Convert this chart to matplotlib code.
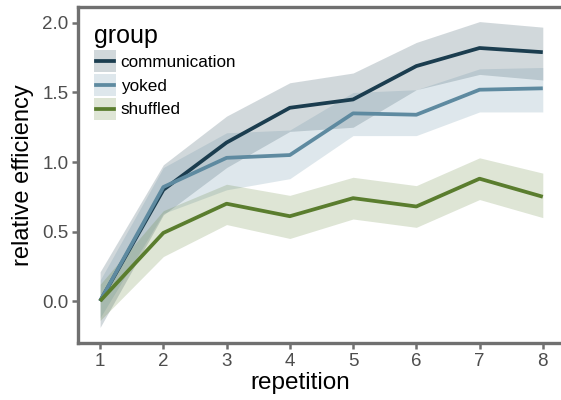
import numpy as np
import matplotlib
matplotlib.use("Agg")
import matplotlib.pyplot as plt
from matplotlib.patches import Rectangle
from matplotlib.lines import Line2D

plt.rcParams['font.family'] = ['Liberation Sans', 'DejaVu Sans']

# datos
repeticion = [1, 2, 3, 4, 5, 6, 7, 8]
grupos = ['communication', 'yoked', 'shuffled']

comm_media = [0.00, 0.80, 1.14, 1.39, 1.45, 1.69, 1.82, 1.79]
comm_inf = [-0.19, 0.62, 0.96, 1.22, 1.25, 1.52, 1.63, 1.59]
comm_sup = [0.21, 0.98, 1.33, 1.57, 1.64, 1.86, 2.01, 1.97]

yoked_media = [0.00, 0.82, 1.03, 1.05, 1.35, 1.34, 1.52, 1.53]
yoked_inf = [-0.12, 0.63, 0.80, 0.88, 1.19, 1.19, 1.36, 1.36]
yoked_sup = [0.15, 0.96, 1.21, 1.23, 1.50, 1.52, 1.67, 1.68]

shuf_media = [0.00, 0.49, 0.70, 0.61, 0.74, 0.68, 0.88, 0.75]
shuf_inf = [-0.14, 0.32, 0.55, 0.45, 0.59, 0.53, 0.73, 0.60]
shuf_sup = [0.12, 0.65, 0.84, 0.76, 0.89, 0.83, 1.03, 0.92]

colores = ['#1b3d4f', '#5e8aa0', '#5a7d2e']


class ClaveRibbon:
    # dibuja la clave de leyenda: caja del ribbon con la linea encima
    def __init__(self, color):
        self.color = color

    def legend_artist(self, legend, orig_handle, fontsize, handlebox):
        x0, y0 = handlebox.xdescent, handlebox.ydescent
        w, h = handlebox.width, handlebox.height
        caja = Rectangle((-x0, -y0), w, h, facecolor=self.color, alpha=0.2,
                         edgecolor='none', transform=handlebox.get_transform())
        linea = Line2D([-x0 + 0.08 * w, -x0 + 0.92 * w], [-y0 + h / 2] * 2,
                       color=self.color, linewidth=2.7,
                       transform=handlebox.get_transform())
        handlebox.add_artist(caja)
        handlebox.add_artist(linea)
        return caja


fig = plt.figure(figsize=(5.61, 4.0), dpi=100)
ax = fig.add_axes([0.139, 0.1425, 0.868, 0.84])

series = [(comm_media, comm_inf, comm_sup),
          (yoked_media, yoked_inf, yoked_sup),
          (shuf_media, shuf_inf, shuf_sup)]

handles = []
mapa = {}
for (media, inf, sup), color, nombre in zip(series, colores, grupos):
    ax.fill_between(repeticion, inf, sup, color=color, alpha=0.2, linewidth=0)
    ln, = ax.plot(repeticion, media, color=color, linewidth=2.7,
                  solid_capstyle='butt')
    handles.append(ln)
    mapa[ln] = ClaveRibbon(color)

ax.set_xlim(0.65, 8.35)
ax.set_ylim(-0.302, 2.115)
ax.set_xticks(repeticion)
ax.set_yticks([0.0, 0.5, 1.0, 1.5, 2.0])
ax.set_yticklabels(['0.0', '0.5', '1.0', '1.5', '2.0'])

for s in ax.spines.values():
    s.set_color('#707070')
    s.set_linewidth(2.4)
ax.tick_params(colors='#707070', width=1.8, length=4, labelsize=13.5,
               labelcolor='#4d4d4d', pad=3)

ax.set_xlabel('repetition', fontsize=17.5, labelpad=1)
ax.xaxis.set_label_coords(0.456, -0.085)
ax.set_ylabel('relative efficiency', fontsize=17, labelpad=6)

leg = ax.legend(handles, grupos, handler_map=mapa, title='group',
                loc='upper left', bbox_to_anchor=(0.033, 0.949), frameon=False,
                fontsize=12.3, title_fontsize=18, handlelength=1.28,
                handleheight=1.59, handletextpad=0.27, labelspacing=0.12,
                borderaxespad=0, borderpad=0, alignment='left')

fig.savefig('out.png', dpi=100)
